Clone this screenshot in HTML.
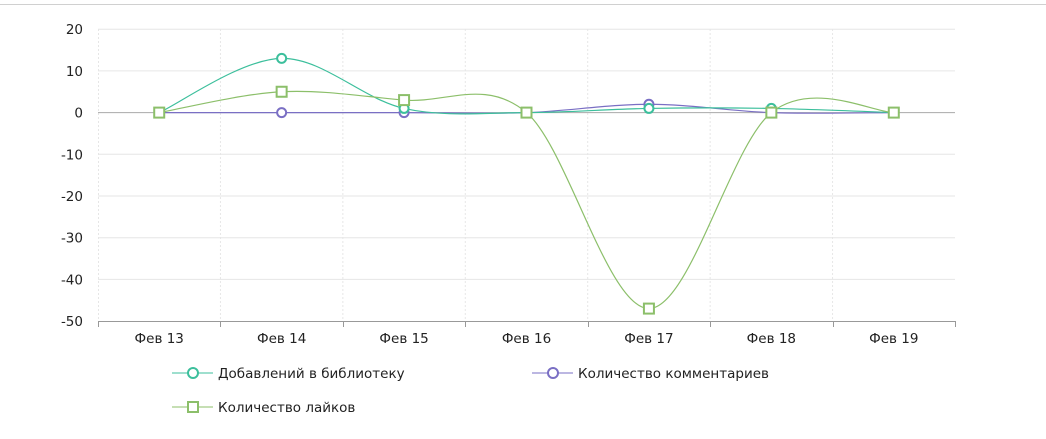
<!DOCTYPE html>
<html><head><meta charset="utf-8"><style>
html,body{margin:0;padding:0;background:#fff;width:1046px;height:439px;overflow:hidden}
svg{display:block;font-family:"DejaVu Sans","Liberation Sans",sans-serif}
</style></head><body>
<svg id="s" width="1046" height="439" xmlns="http://www.w3.org/2000/svg">
<line x1="0" y1="4.5" x2="1046" y2="4.5" stroke="#d0d0d0" stroke-width="1"/>
<g id="grid"></g>
<g id="series"></g>
<g font-size="13.5" fill="#222">
<circle cx="193" cy="373" r="5" fill="#fff" stroke="#3cbf9c" stroke-width="2"/>
<line x1="172" y1="373" x2="188" y2="373" stroke="#3cbf9c"/><line x1="198" y1="373" x2="213" y2="373" stroke="#3cbf9c"/>
<text x="218" y="378">Добавлений в библиотеку</text>
<circle cx="553" cy="373" r="5" fill="#fff" stroke="#7a6fc4" stroke-width="2"/>
<line x1="532" y1="373" x2="548" y2="373" stroke="#7a6fc4"/><line x1="558" y1="373" x2="573" y2="373" stroke="#7a6fc4"/>
<text x="578" y="378">Количество комментариев</text>
<line x1="172" y1="407" x2="213" y2="407" stroke="#8cbf6a"/>
<rect x="188" y="402" width="10" height="10" fill="#fff" stroke="#8cbf6a" stroke-width="2"/>
<text x="218" y="412">Количество лайков</text>
</g>
</svg>
<script>
var ns="http://www.w3.org/2000/svg",g=document.getElementById('grid'),S=document.getElementById('series');
function el(t,a,p){var e=document.createElementNS(ns,t);for(var k in a)e.setAttribute(k,a[k]);(p||g).appendChild(e);return e;}
function Y(v){return 112.6-4.17*v;}
var L=98,R=955,bw=(R-L)/7;
for(var i=1;i<7;i++){var x=L+bw*i;el('line',{x1:x,y1:29,x2:x,y2:321,stroke:'#e6e6e6','stroke-dasharray':'2,2'});}
el('line',{x1:L+0.5,y1:29,x2:L+0.5,y2:321,stroke:'#e6e6e6','stroke-dasharray':'2,2'});
for(var v=20;v>=-50;v-=10){var y=Y(v);
 if(v!=0&&v!=-50)el('line',{x1:L,y1:y,x2:R,y2:y,stroke:'#e6e6e6'});
 var t=el('text',{x:83,y:y+5,'text-anchor':'end','font-size':'13.5',fill:'#222'});t.textContent=v;}
el('line',{x1:L,y1:Y(0),x2:R,y2:Y(0),stroke:'#aaa'});
el('line',{x1:L,y1:321.5,x2:R,y2:321.5,stroke:'#999'});
var days=['Фев 13','Фев 14','Фев 15','Фев 16','Фев 17','Фев 18','Фев 19'],X=[];
for(var i=0;i<=7;i++){var x=Math.round(L+bw*i)+0.5;el('line',{x1:x,y1:321,x2:x,y2:327,stroke:'#999'});}
for(var i=0;i<7;i++){X.push(L+bw*(i+0.5));var t=el('text',{x:X[i],y:343,'text-anchor':'middle','font-size':'13.5',fill:'#222'});t.textContent=days[i];}
function path(d){var P=d.map(function(v,i){return [X[i],Y(v)]});var s='M'+P[0][0]+','+P[0][1];
 for(var i=0;i<P.length-1;i++){var p0=P[Math.max(0,i-1)],p1=P[i],p2=P[i+1],p3=P[Math.min(P.length-1,i+2)];
 s+=' C'+(p1[0]+(p2[0]-p0[0])/6)+','+(p1[1]+(p2[1]-p0[1])/6)+' '+(p2[0]-(p3[0]-p1[0])/6)+','+(p2[1]-(p3[1]-p1[1])/6)+' '+p2[0]+','+p2[1];}
 return s;}
var ser=[{d:[0,0,0,0,2,0,0],c:'#7a6fc4',m:'c'},{d:[0,13,1,0,1,1,0],c:'#3cbf9c',m:'c'},{d:[0,5,3,0,-47,0,0],c:'#8cbf6a',m:'s'}];
ser.forEach(function(s){el('path',{d:path(s.d),fill:'none',stroke:s.c,'stroke-width':1.2},S);});
ser.forEach(function(s){s.d.forEach(function(v,i){if(s.m=='c')el('circle',{cx:X[i],cy:Y(v),r:4.5,fill:'#fff',stroke:s.c,'stroke-width':2},S);
 else el('rect',{x:X[i]-5,y:Y(v)-5,width:10,height:10,fill:'#fff',stroke:s.c,'stroke-width':2},S);});});
</script>
</body></html>
